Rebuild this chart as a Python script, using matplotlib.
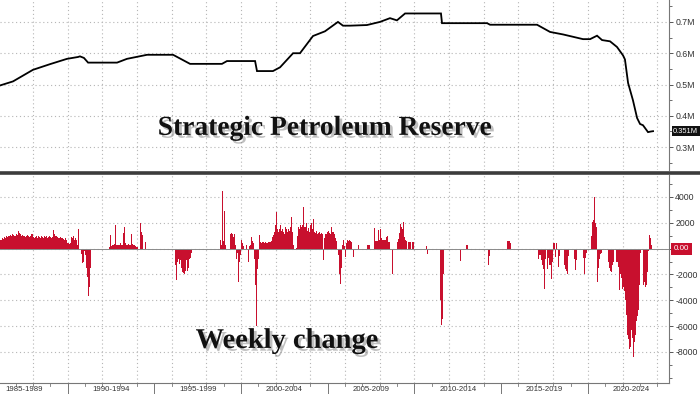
import matplotlib
matplotlib.use("Agg")
import matplotlib.pyplot as plt
import matplotlib.patheffects as pe
from matplotlib.lines import Line2D
from matplotlib.ticker import MultipleLocator
import matplotlib.transforms as mtransforms
import numpy as np

# ---------------- DATA ----------------
# Strategic Petroleum Reserve level (billions of barrels, shown as "M" units on the chart)
spr_years = [1986.10, 1986.85, 1988.00, 1988.98, 1989.96, 1990.60, 1990.71, 1990.94, 1991.18,
             1992.85, 1993.42, 1994.58, 1996.08, 1997.06, 1998.90, 1999.19, 2000.81, 2000.92,
             2001.84, 2002.25, 2003.00, 2003.40, 2004.15, 2004.84, 2005.59, 2005.88, 2006.28,
             2007.26, 2008.01, 2008.59, 2008.99, 2009.46, 2011.53, 2011.59, 2014.19, 2014.36,
             2017.07, 2017.82, 2018.57, 2019.72, 2020.13, 2020.53, 2020.82, 2021.28, 2021.68,
             2022.03, 2022.14, 2022.32, 2022.60, 2022.84, 2023.01, 2023.18, 2023.47, 2023.64,
             2023.76]
spr_level = [0.497, 0.510, 0.547, 0.565, 0.582, 0.588, 0.590, 0.585, 0.570,
             0.570, 0.582, 0.595, 0.595, 0.566, 0.566, 0.575, 0.575, 0.543,
             0.543, 0.555, 0.600, 0.600, 0.655, 0.670, 0.700, 0.688, 0.688,
             0.690, 0.700, 0.712, 0.705, 0.727, 0.727, 0.696, 0.696, 0.691,
             0.691, 0.668, 0.660, 0.645, 0.645, 0.656, 0.642, 0.638, 0.620,
             0.593, 0.580, 0.505, 0.450, 0.393, 0.374, 0.370, 0.348, 0.350,
             0.351]
spr_last_label = "0.351M"

# Weekly change (thousand barrels), sampled every 3 weeks, in runs starting at the given year
chg_step = 3 / 52.0
chg_run_1986 = [700, 650, 800, 750, 900, 850, 950, 900, 1000, 950, 1050, 1000, 1100, 1050, 950,
                1000, 1100, 1050, 1350, 1200, 1100, 1000, 1050, 950, 1000, 900, 950, 1050, 1000,
                900, 950, 1100, 1150, 900, 850, 900, 950, 850, 1000, 900, 850, 1000, 900, 850,
                950, 900, 1000, 850, 900, 950, 900, 850, 900, 1420, 1100, 1000, 950, 900, 850,
                800, 900, 850, 800, 750, 700, 800, 700, 450, 400, 350, 400, 900, 850, 950, 700,
                800, 650, 300, 1550]
chg_run_1990 = [-400, -1100, -1000, -200, -500, -1500, -2200, -3700, -3000, -1500]
chg_run_1992 = [150, 1030, 200, 300, 250, 350, 1860, 300, 250, 300, 250, 400, 300, 250, 1200,
                1650, 400, 300, 250, 350, 300, 250, 1100, 350, 300, 250, 200, 150, 100, 0, 0,
                1990, 1300, 1040, 0, 0, 520]
chg_run_1996 = [-1300, -2450, -1000, -800, -1200, -900, -1500, -1800, -1900, -2000, -1700, -900,
                -1700, -1500, -800, -700, -300]
chg_run_1998 = [0, 640, 300, 4500, 600, 2900, 300, 0, 0, 0, 0, 1100, 1200, 1160, 900, 1160, 300,
                -770, -300, -2580, -1000, -500, 640, 400, 200, -100, 0, 300, 0, -1030, 200, 300,
                900, 600, 400, -800, -2840, -5950, -1600, -800, 1030, 500, 460, 520, 520, 400,
                520, 400, 450, 500]
chg_run_2001 = [520, 520, 600, 900, 1030, 1300, 1800, 2840, 1500, 1300, 1550, 1800, 1400, 1550,
                1300, 1100, 1650, 1550, 1300, 1550, 1400, 1700, 2450, 1300, 300, 0, 0, 50, 1000,
                1680, 1500, 1800, 1700, 1800, 3220, 1700, 1650, 1950, 1400, 1600, 1300, 1860,
                1950, 1500, 2320, 1300, 1200, 1400, 1150, 1200, 1300, 1150, 1200, 1100, -900,
                800, 1150, 1100, 1300, 1400, 1200, 1150, 1680, 1300, 1250, 1150, 800, 600, 0,
                -500, -2000, -2710, -1500, 300, 640, 200, -640, 400, 640, 600, 640, 590, 500, 0,
                -640, 0, 0, 0, 0, 260, 0, 0, 0, 0, 0, 0, 0, 0, 310, 310, 310, 0, 0, 0, 0, 1620,
                600, 590, 590, 1420, 700, 1550, 800, 650, 650, 700, 650, 900, 950, 500, 500, 0,
                0, -1940, 0, 0, 0, 0, 500, 770, 1200, 1940, 1700, 1500, 2060, 900, 650, 600, 0,
                520, 520, 520, 0, 520, 520]
chg_run_2010 = [200, -390]
chg_run_2011 = [-4000, -5930, -5420, -2000]
chg_run_2012a = [-980]
chg_run_2012b = [310, 310]
chg_run_2014 = [-1290, -600]
chg_run_2015 = [570, 600, 570, 400]
chg_run_2017 = [-770, -500, -500, -900, -1300, -1550, -3100, -800, 0, -1550, -700, -1300, -1300,
                -2320, -1000, 460, 460, -640, 460, 0, -1420, -600, 0, 0, 0, 0, -1300, -1550,
                -1700, -1940, -600, 0, 0, 0, 0, 0, -800, -1680, -900, 0, 0, 0, 0, 0, 0, -700,
                -1940, -700, -300, 0, 0, 0, 0, 1000, 2060, 2200, 4000, 2000, 1700, -2580, -1500,
                -800, -400, -300, -100, 0, 0, -100, 0, -100, -1000, -1500, -1700, -1800, -1300,
                -1000, 0, 0, -1030, -1000, -1400, -3220, -2000, -2300, -3100, -3000, -3300,
                -4000, -5160, -6700, -6960, -7740, -7610, -6300, -6900, -8390, -7200, -6700,
                -5600, -5200, -4770, -2800, -300, 0, 0, -2840, -2580, -3000, -2800, -1800, -200,
                1030, 800, 300, -100]
chg_runs = [(1986.10, chg_run_1986), (1990.77, chg_run_1990), (1992.39, chg_run_1992),
            (1996.19, chg_run_1996), (1998.73, chg_run_1998), (2001.61, chg_run_2001),
            (2010.67, chg_run_2010), (2011.47, chg_run_2011), (2012.63, chg_run_2012a),
            (2012.97, chg_run_2012b), (2014.24, chg_run_2014), (2015.34, chg_run_2015),
            (2017.13, chg_run_2017)]

period_labels = ["1985-1989", "1990-1994", "1995-1999", "2000-2004",
                 "2005-2009", "2010-2014", "2015-2019", "2020-2024"]
period_starts = [1985, 1990, 1995, 2000, 2005, 2010, 2015, 2020]

# ---------------- PLOT ----------------
W, H = 700, 394
fig = plt.figure(figsize=(7, 3.94), dpi=100)
fig.patch.set_facecolor("white")

XMIN, XMAX = 1986.10, 2024.68
ax1 = fig.add_axes([0, 1 - 170 / H, 669 / W, 170 / H])
ax2 = fig.add_axes([0, 1 - 383 / H, 669 / W, 208 / H])

tick_col = "#333333"
grid_kw = dict(color="#b5b5b5", linestyle=(0, (1, 2.5)), linewidth=0.8)

for ax in (ax1, ax2):
    ax.set_xlim(XMIN, XMAX)
    ax.yaxis.tick_right()
    for s in ("left", "top"):
        ax.spines[s].set_visible(False)
    ax.spines["right"].set_color("#777777")
    ax.spines["right"].set_linewidth(0.8)
    ax.tick_params(axis="y", which="major", direction="out", length=3, width=0.7,
                   colors="#555555", labelcolor=tick_col, labelsize=6.3, pad=1.5)
    ax.tick_params(axis="y", which="minor", direction="out", length=2, width=0.6,
                   colors="#555555")
    ax.set_xticks(np.arange(1988, 2025, 2))
    ax.set_axisbelow(True)
    ax.grid(True, axis="both", **grid_kw)

# top panel
ax1.plot(spr_years, spr_level, color="black", lw=1.3, solid_joinstyle="miter")
ax1.set_ylim(0.227, 0.770)
ax1.set_yticks([0.3, 0.4, 0.5, 0.6, 0.7])
ax1.set_yticklabels(["0.3M", "0.4M", "0.5M", "0.6M", "0.7M"])
ax1.yaxis.set_minor_locator(MultipleLocator(0.05))
ax1.spines["bottom"].set_visible(False)
ax1.tick_params(axis="x", which="both", bottom=False, labelbottom=False)

# bottom panel bars
for start, vals in chg_runs:
    xs = start + np.arange(len(vals)) * chg_step
    ax2.bar(xs, vals, width=chg_step * 1.05, color="#c8102e", linewidth=0, align="edge")
ax2.axhline(0, color="#8a8a8a", lw=0.7, zorder=1)
ax2.set_ylim(-10400, 5700)
ax2.set_yticks([-8000, -6000, -4000, -2000, 0, 2000, 4000])
ax2.set_yticklabels(["-8000", "-6000", "-4000", "-2000", "", "2000", "4000"])
ax2.yaxis.set_minor_locator(MultipleLocator(1000))
ax2.spines["bottom"].set_color("#777777")
ax2.spines["bottom"].set_linewidth(0.8)
ax2.tick_params(axis="x", which="major", bottom=False, labelbottom=False)

for ax in (ax1, ax2):
    for lab in ax.get_yticklabels():
        lab.set_family(["Liberation Sans", "DejaVu Sans"])

# bottom axis: year ticks, period separators, labels
trans = mtransforms.blended_transform_factory(ax2.transData, ax2.transAxes)
for y in range(1987, 2025):
    ax2.plot([y, y], [0, -0.015], transform=trans, color="#777777", lw=0.6, clip_on=False)
for p in period_starts[1:]:
    ax2.plot([p, p], [0, -0.06], transform=trans, color="#777777", lw=0.7, clip_on=False)
for p, lab in zip(period_starts, period_labels):
    ax2.text(p + 2.5, -0.033, lab, transform=trans, ha="center", va="center",
             fontsize=5.6, color=tick_col, family=["Liberation Sans", "DejaVu Sans"])

# separator between panels
fig.add_artist(Line2D([0, 1], [1 - 172.5 / H] * 2, transform=fig.transFigure,
                      color="#3c3c3c", lw=2.6))

# titles with shadow
shadow = [pe.withSimplePatchShadow(offset=(2, -2), shadow_rgbFace="#808080", alpha=0.5)]
ax1.text(325 / 669, 0.245, "Strategic Petroleum Reserve", transform=ax1.transAxes,
         ha="center", va="center", fontsize=19.8, fontweight="bold",
         family=["Liberation Serif", "DejaVu Serif"], color="#111111", path_effects=shadow)
ax2.text(287 / 669, 0.20, "Weekly change", transform=ax2.transAxes,
         ha="center", va="center", fontsize=20.5, fontweight="bold",
         family=["Liberation Serif", "DejaVu Serif"], color="#111111", path_effects=shadow)

# last value tags
ax1.annotate(spr_last_label, xy=(1, spr_level[-1]), xycoords=("axes fraction", "data"),
             xytext=(3, 0), textcoords="offset points", ha="left", va="center",
             fontsize=5.4, color="white",
             family=["Liberation Sans", "DejaVu Sans"],
             bbox=dict(boxstyle="square,pad=0.2", fc="#111111", ec="none"))
ax2.annotate("0.00", xy=(1, 0), xycoords=("axes fraction", "data"),
             xytext=(3.5, 0), textcoords="offset points", ha="left", va="center",
             fontsize=5.8, color="white",
             family=["Liberation Sans", "DejaVu Sans"],
             bbox=dict(boxstyle="square,pad=0.3", fc="#c8102e", ec="none"))

fig.savefig("out.png", dpi=100, facecolor="white")
